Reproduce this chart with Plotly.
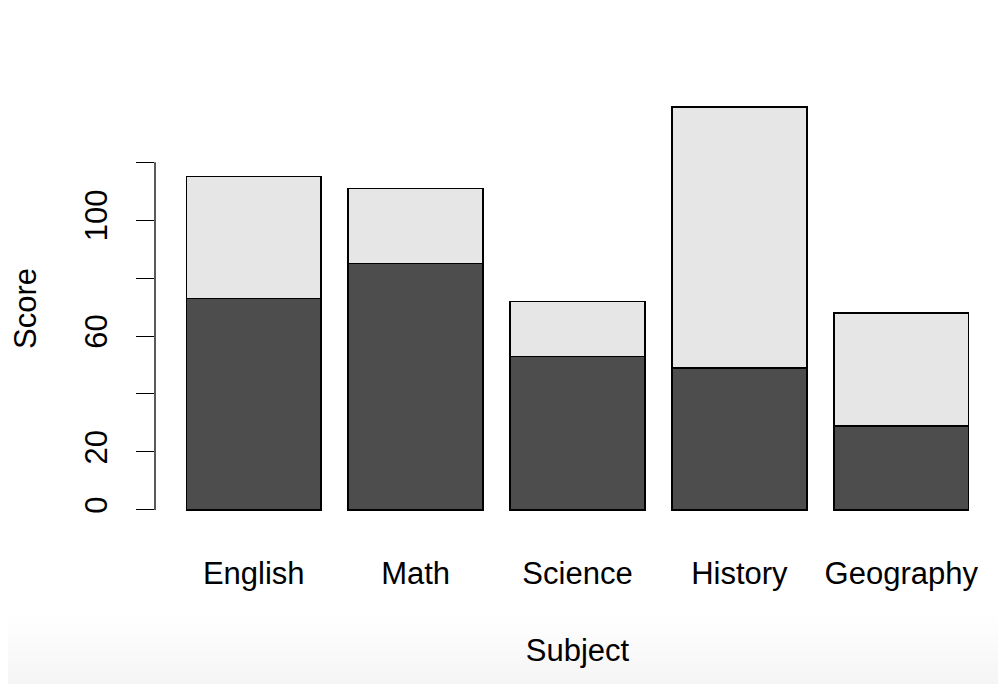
import plotly.graph_objects as go

subjects = ["English", "Math", "Science", "History", "Geography"]
lower_scores = [73, 85, 53, 49, 29]
upper_scores = [42, 26, 19, 90, 39]
tick_values = [0, 20, 40, 60, 80, 100, 120]
tick_labels = ["0", "20", "", "60", "", "100", ""]

FONT = "Liberation Sans, Arial, Helvetica, sans-serif"
FS = 31

fig = go.Figure()
fig.add_trace(go.Bar(x=subjects, y=lower_scores, marker=dict(color="#4d4d4d", line=dict(color="black", width=1.5)), showlegend=False))
fig.add_trace(go.Bar(x=subjects, y=upper_scores, marker=dict(color="#e6e6e6", line=dict(color="black", width=1.5)), showlegend=False))

# page body offset of 8px is compensated in the margins
OFF = 8
TOP = 91 - OFF
BOT = 526 - OFF
H = float(BOT - TOP)
shapes = []
n = 17
for i in range(n):
    p0 = 616 + i * 4 - OFF
    p1 = p0 + 4
    g = int(round(255 - (255 - 245) * (i + 1) / n))
    shapes.append(dict(type="rect", xref="paper", yref="paper", x0=-0.2, x1=1.1,
                       y0=(BOT - p1) / H, y1=(BOT - p0) / H,
                       fillcolor=f"rgb({g},{g},{g})", line=dict(width=0), layer="below"))
# y axis line spanning the tick range only
shapes.append(dict(type="line", xref="paper", yref="y", x0=0, x1=0, y0=0, y1=120,
                   line=dict(color="black", width=1.3)))

fig.update_layout(
    barmode="stack",
    bargap=1/6,
    width=1006, height=684,
    margin=dict(l=155 - OFF, r=14, t=TOP, b=684 - BOT),
    paper_bgcolor="white", plot_bgcolor="rgba(0,0,0,0)",
    font=dict(family=FONT, size=FS, color="black"),
    shapes=shapes,
    xaxis=dict(range=[-0.61, 4.61], showline=False, showgrid=False, zeroline=False,
               ticks="", ticklabelstandoff=26, tickfont=dict(size=FS),
               title=dict(text="Subject", font=dict(size=FS), standoff=49)),
    yaxis=dict(range=[-5.56, 144.56], showline=False, showgrid=False, zeroline=False,
               tickmode="array", tickvals=tick_values, ticktext=tick_labels,
               ticks="outside", ticklen=18, tickwidth=1.3, tickcolor="black",
               tickangle=-90, ticklabelstandoff=17, tickfont=dict(size=FS),
               title=dict(text="Score", font=dict(size=FS), standoff=36)),
)
fig.write_html("out.html")
